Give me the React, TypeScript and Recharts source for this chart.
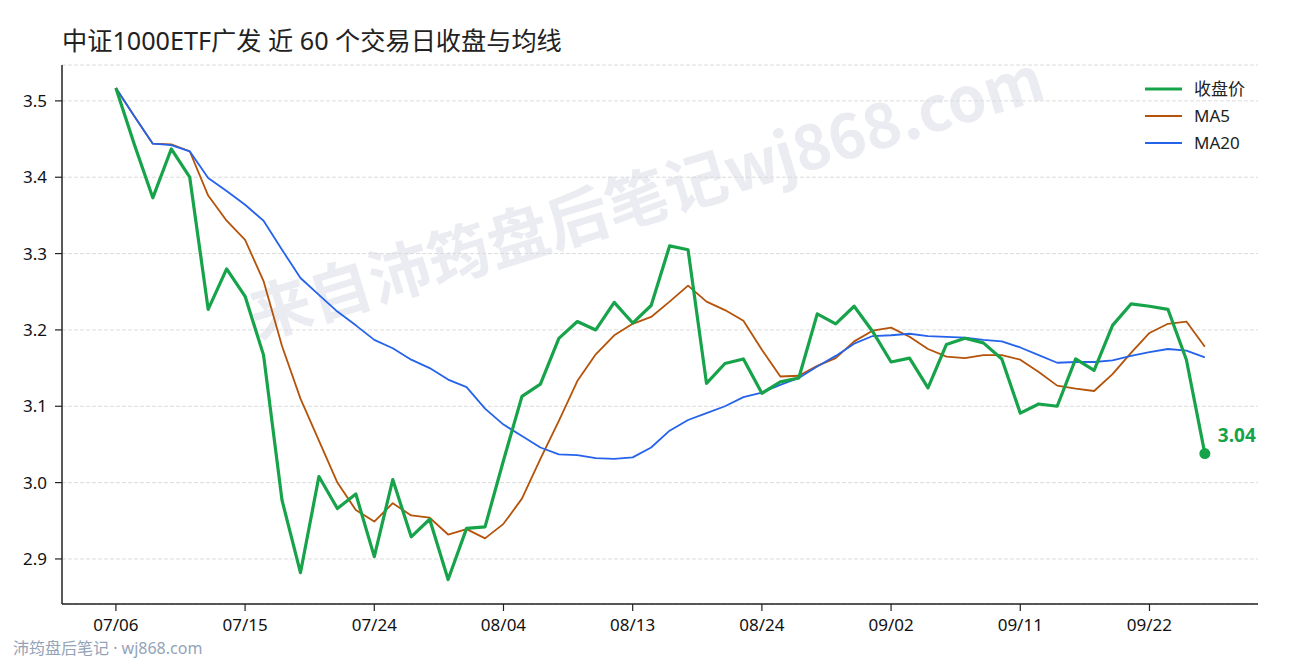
import React from 'react';
import { LineChart, Line, XAxis, YAxis, CartesianGrid, Legend } from 'recharts';

// 近 60 个交易日
const dates = [
    '07/06', '07/07', '07/08', '07/09', '07/10',
    '07/13', '07/14', '07/15', '07/16', '07/17',
    '07/20', '07/21', '07/22', '07/23', '07/24',
    '07/27', '07/28', '07/29', '07/30', '07/31',
    '08/03', '08/04', '08/05', '08/06', '08/07',
    '08/10', '08/11', '08/12', '08/13', '08/14',
    '08/17', '08/18', '08/19', '08/20', '08/21',
    '08/24', '08/25', '08/26', '08/27', '08/28',
    '08/31', '09/01', '09/02', '09/03', '09/04',
    '09/07', '09/08', '09/09', '09/10', '09/11',
    '09/14', '09/15', '09/16', '09/17', '09/18',
    '09/21', '09/22', '09/23', '09/24', '09/25',
];

const closePrices = [
    3.517, 3.443, 3.373, 3.437, 3.400, 3.227, 3.280, 3.244, 3.167, 2.977,
    2.882, 3.008, 2.966, 2.985, 2.903, 3.004, 2.929, 2.952, 2.873, 2.940,
    2.942, 3.029, 3.113, 3.129, 3.189, 3.211, 3.200, 3.236, 3.209, 3.232,
    3.310, 3.305, 3.130, 3.156, 3.162, 3.117, 3.132, 3.137, 3.221, 3.208,
    3.231, 3.198, 3.158, 3.163, 3.124, 3.181, 3.189, 3.183, 3.162, 3.091,
    3.103, 3.100, 3.162, 3.147, 3.206, 3.234, 3.231, 3.227, 3.161, 3.038,
];

const ma5 = [
    3.517, 3.480, 3.444, 3.443, 3.434, 3.376, 3.343, 3.318, 3.264, 3.179,
    3.110, 3.055, 3.000, 2.964, 2.949, 2.973, 2.957, 2.954, 2.932, 2.939,
    2.927, 2.946, 2.979, 3.031, 3.081, 3.133, 3.168, 3.193, 3.208, 3.217,
    3.237, 3.258, 3.237, 3.226, 3.212, 3.174, 3.139, 3.140, 3.153, 3.163,
    3.185, 3.199, 3.203, 3.191, 3.175, 3.165, 3.163, 3.167, 3.167, 3.161,
    3.145, 3.127, 3.123, 3.120, 3.142, 3.170, 3.196, 3.208, 3.211, 3.178,
];

const ma20 = [
    3.517, 3.480, 3.444, 3.442, 3.434, 3.399, 3.382, 3.364, 3.343, 3.305,
    3.268, 3.246, 3.224, 3.206, 3.187, 3.176, 3.161, 3.150, 3.135, 3.125,
    3.097, 3.076, 3.061, 3.046, 3.037, 3.036, 3.032, 3.031, 3.033, 3.046,
    3.068, 3.082, 3.091, 3.100, 3.112, 3.118, 3.128, 3.137, 3.152, 3.166,
    3.182, 3.192, 3.193, 3.195, 3.192, 3.191, 3.190, 3.187, 3.185, 3.177,
    3.167, 3.157, 3.158, 3.158, 3.160, 3.166, 3.171, 3.175, 3.173, 3.164,
];

const yTicks = [2.9, 3.0, 3.1, 3.2, 3.3, 3.4, 3.5];
const xTickIndex = [0, 7, 14, 21, 28, 35, 42, 49, 56];

const GREEN = '#16a34a';
const ORANGE = '#b45309';
const BLUE = '#2563eb';
// 拉丁字符用 Noto Sans，中文回退到 Noto Sans CJK
const FONT = "'Noto Sans', 'Noto Sans CJK SC', sans-serif";
const CJK_FONT = "'Noto Sans CJK SC', 'Noto Sans', sans-serif";

const legendItems = [
    { label: '收盘价', color: GREEN, width: 3.2 },
    { label: 'MA5', color: ORANGE, width: 1.8 },
    { label: 'MA20', color: BLUE, width: 1.8 },
];

const rows = dates.map((d, i) => ({
    i,
    date: d,
    close: closePrices[i],
    ma5: ma5[i],
    ma20: ma20[i],
}));

const lastIndex = closePrices.length - 1;

const renderLegend = () => (
    <div style={{ fontFamily: FONT }}>
        {legendItems.map(item => (
            <div key={item.label} style={{ display: 'flex', alignItems: 'center', height: 26.8 }}>
                <svg width={37} height={8}>
                    <line x1={0} x2={37} y1={4} y2={4} stroke={item.color} strokeWidth={item.width} />
                </svg>
                <span style={{ marginLeft: 12, fontSize: 17, color: '#222', lineHeight: '20px' }}>{item.label}</span>
            </div>
        ))}
    </div>
);

// 只在最后一个收盘点画圆点和数值
const renderLastDot = (props: any) => {
    const { cx, cy, index } = props;
    if (index !== lastIndex) return <g key={`d-${index}`} />;
    return (
        <g key={`d-${index}`}>
            <circle cx={cx} cy={cy} r={5.5} fill={GREEN} />
            <text
                x={cx + 13}
                y={cy - 19}
                dominantBaseline="central"
                fontSize={19}
                fontWeight={700}
                fill={GREEN}
                fontFamily={FONT}
            >
                {closePrices[lastIndex].toFixed(2)}
            </text>
        </g>
    );
};

export default function App() {
    return (
        <div
            style={{
                position: 'absolute',
                left: 0,
                top: 0,
                width: 1290,
                height: 660,
                background: '#fff',
                overflow: 'hidden',
                fontFamily: FONT,
            }}
        >
            <svg width={1290} height={660} style={{ position: 'absolute', left: 0, top: 0 }}>
                <text
                    x={645}
                    y={193}
                    transform="rotate(-17 645 193)"
                    textAnchor="middle"
                    dominantBaseline="central"
                    fontSize={62}
                    fontWeight={700}
                    fill="#eaecf2"
                    fontFamily={CJK_FONT}
                >
                    来自沛筠盘后笔记wj868.com
                </text>
                <text x={62} y={50} fontSize={25.2} fill="#222" fontFamily={FONT}>
                    中证1000ETF广发 近 60 个交易日收盘与均线
                </text>
                <text x={13} y={654} fontSize={16} fill="#94a3b8" fontFamily={FONT}>
                    沛筠盘后笔记 · wj868.com
                </text>
            </svg>

            <div style={{ position: 'absolute', left: 0, top: 0 }}>
                <LineChart
                    width={1290}
                    height={660}
                    data={rows}
                    margin={{ top: 65, right: 32, bottom: 26, left: 0 }}
                >
                    <CartesianGrid vertical={false} stroke="#dcdcdc" strokeDasharray="4 2" />
                    <XAxis
                        dataKey="i"
                        type="number"
                        domain={[-2.92, 61.88]}
                        allowDataOverflow
                        ticks={xTickIndex}
                        tickFormatter={(v: number) => dates[v]}
                        height={30}
                        axisLine={{ stroke: '#222', strokeWidth: 1.5 }}
                        tickLine={{ stroke: '#222', strokeWidth: 1.2 }}
                        tickSize={7}
                        tickMargin={8}
                        tick={{ fill: '#111', fontSize: 17, fontFamily: FONT }}
                    />
                    <YAxis
                        type="number"
                        domain={[2.841, 3.547]}
                        allowDataOverflow
                        ticks={yTicks}
                        tickFormatter={(v: number) => v.toFixed(1)}
                        width={62}
                        axisLine={{ stroke: '#222', strokeWidth: 1.5 }}
                        tickLine={{ stroke: '#222', strokeWidth: 1.2 }}
                        tickSize={7}
                        tickMargin={8}
                        tick={{ fill: '#111', fontSize: 17, fontFamily: FONT }}
                    />
                    <Legend
                        layout="vertical"
                        align="center"
                        verticalAlign="middle"
                        content={renderLegend}
                        wrapperStyle={{ left: 1145, top: 75.6, width: 140 }}
                    />
                    <Line
                        dataKey="ma5"
                        type="linear"
                        stroke={ORANGE}
                        strokeWidth={1.8}
                        strokeLinejoin="round"
                        dot={false}
                        activeDot={false}
                        isAnimationActive={false}
                    />
                    <Line
                        dataKey="ma20"
                        type="linear"
                        stroke={BLUE}
                        strokeWidth={1.8}
                        strokeLinejoin="round"
                        dot={false}
                        activeDot={false}
                        isAnimationActive={false}
                    />
                    <Line
                        dataKey="close"
                        type="linear"
                        stroke={GREEN}
                        strokeWidth={3.2}
                        strokeLinejoin="round"
                        dot={renderLastDot}
                        activeDot={false}
                        isAnimationActive={false}
                    />
                </LineChart>
            </div>
        </div>
    );
}
